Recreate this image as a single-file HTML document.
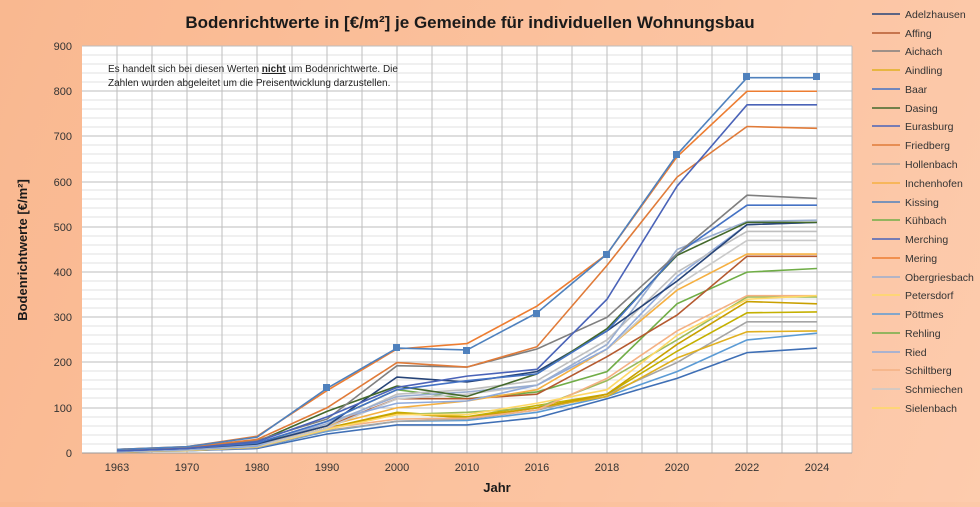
<!DOCTYPE html>
<html><head><meta charset="utf-8"><style>
body{margin:0;width:980px;height:502px;overflow:hidden;background:linear-gradient(110deg,#f9b890 0%,#fbc19d 50%,#fdcbad 100%);font-family:"Liberation Sans",sans-serif}
</style></head><body>
<svg width="980" height="502" xmlns="http://www.w3.org/2000/svg" font-family="Liberation Sans, sans-serif">
<text x="470" y="28" font-size="17" font-weight="bold" text-anchor="middle" fill="#1a1a1a">Bodenrichtwerte in [€/m²] je Gemeinde für individuellen Wohnungsbau</text>
<rect x="82" y="46" width="770" height="407" fill="#fff"/>
<g stroke="#e2e2e2" stroke-width="1">
<path d="M82 55H852M82 64H852M82 73H852M82 82H852M82 100H852M82 109H852M82 118H852M82 127H852M82 145H852M82 154H852M82 163H852M82 172H852M82 190H852M82 199H852M82 208H852M82 217H852M82 236H852M82 245H852M82 254H852M82 263H852M82 281H852M82 290H852M82 299H852M82 308H852M82 326H852M82 335H852M82 344H852M82 353H852M82 371H852M82 380H852M82 389H852M82 398H852M82 417H852M82 426H852M82 435H852M82 444H852"/>
</g>
<g stroke="#bdbdbd" stroke-width="1">
<path d="M82 46H852M82 91H852M82 136H852M82 182H852M82 227H852M82 272H852M82 317H852M82 362H852M82 408H852"/>
<path d="M117 46V453M152 46V453M187 46V453M222 46V453M257 46V453M292 46V453M327 46V453M362 46V453M397 46V453M432 46V453M467 46V453M502 46V453M537 46V453M572 46V453M607 46V453M642 46V453M677 46V453M712 46V453M747 46V453M782 46V453M817 46V453M852 46V453"/>
</g>
<path d="M82 453H852" stroke="#999"/>
<g font-size="11" fill="#333" text-anchor="end">
<text x="72" y="50">900</text><text x="72" y="95">800</text><text x="72" y="140">700</text><text x="72" y="186">600</text><text x="72" y="231">500</text><text x="72" y="276">400</text><text x="72" y="321">300</text><text x="72" y="366">200</text><text x="72" y="412">100</text><text x="72" y="457">0</text>
</g>
<g font-size="11" fill="#333" text-anchor="middle">
<text x="117" y="471">1963</text><text x="187" y="471">1970</text><text x="257" y="471">1980</text><text x="327" y="471">1990</text><text x="397" y="471">2000</text><text x="467" y="471">2010</text><text x="537" y="471">2016</text><text x="607" y="471">2018</text><text x="677" y="471">2020</text><text x="747" y="471">2022</text><text x="817" y="471">2024</text>
</g>
<text x="497" y="492" font-size="13" font-weight="bold" text-anchor="middle" fill="#1a1a1a">Jahr</text>
<text transform="translate(27,250) rotate(-90)" font-size="13" font-weight="bold" text-anchor="middle" fill="#1a1a1a">Bodenrichtwerte [€/m²]</text>
<text x="108" y="72" font-size="10" fill="#222">Es handelt sich bei diesen Werten <tspan font-weight="bold" text-decoration="underline">nicht</tspan> um Bodenrichtwerte. Die</text>
<text x="108" y="86" font-size="10" fill="#222">Zahlen wurden abgeleitet um die Preisentwicklung darzustellen.</text>
<g fill="none" stroke-width="1.6" transform="translate(0,453) scale(1,-0.4522)">
<polyline vector-effect="non-scaling-stroke" stroke="#3f6fb5" points="117,3 187,5 257,10 327,42 397,62 467,62 537,78 607,120 677,165 747,222 817,232"/>
<polyline vector-effect="non-scaling-stroke" stroke="#5b9bd5" points="117,3 187,5 257,12 327,48 397,70 467,72 537,90 607,125 677,180 747,250 817,265"/>
<polyline vector-effect="non-scaling-stroke" stroke="#a5a5a5" points="117,3 187,5 257,12 327,50 397,70 467,75 537,95 607,130 677,200 747,290 817,290"/>
<polyline vector-effect="non-scaling-stroke" stroke="#e0b020" points="117,3 187,6 257,14 327,55 397,88 467,78 537,100 607,125 677,210 747,268 817,270"/>
<polyline vector-effect="non-scaling-stroke" stroke="#c4b000" points="117,3 187,6 257,14 327,55 397,90 467,80 537,105 607,130 677,225 747,310 817,312"/>
<polyline vector-effect="non-scaling-stroke" stroke="#9bbb59" points="117,3 187,7 257,15 327,55 397,85 467,90 537,100 607,160 677,250 747,345 817,345"/>
<polyline vector-effect="non-scaling-stroke" stroke="#c9a000" points="117,3 187,6 257,14 327,55 397,88 467,78 537,100 607,130 677,240 747,335 817,330"/>
<polyline vector-effect="non-scaling-stroke" stroke="#f4b183" points="117,3 187,6 257,15 327,55 397,75 467,77 537,95 607,165 677,270 747,348 817,348"/>
<polyline vector-effect="non-scaling-stroke" stroke="#ffd966" points="117,3 187,6 257,14 327,52 397,85 467,85 537,110 607,140 677,260 747,340 817,348"/>
<polyline vector-effect="non-scaling-stroke" stroke="#70ad47" points="117,4 187,8 257,20 327,70 397,140 467,120 537,135 607,180 677,330 747,400 817,408"/>
<polyline vector-effect="non-scaling-stroke" stroke="#b55a30" points="117,4 187,8 257,18 327,60 397,120 467,120 537,130 607,213 677,305 747,435 817,435"/>
<polyline vector-effect="non-scaling-stroke" stroke="#f5b042" points="117,4 187,8 257,18 327,60 397,100 467,115 537,140 607,230 677,360 747,440 817,440"/>
<polyline vector-effect="non-scaling-stroke" stroke="#c9c9c9" points="117,3 187,7 257,15 327,55 397,120 467,130 537,150 607,230 677,370 747,470 817,470"/>
<polyline vector-effect="non-scaling-stroke" stroke="#8faadc" points="117,3 187,7 257,15 327,70 397,110 467,115 537,150 607,230 677,390 747,505 817,510"/>
<polyline vector-effect="non-scaling-stroke" stroke="#bfbfbf" points="117,4 187,8 257,18 327,60 397,130 467,140 537,160 607,250 677,400 747,490 817,490"/>
<polyline vector-effect="non-scaling-stroke" stroke="#9aaed0" points="117,4 187,8 257,18 327,65 397,125 467,135 537,150 607,240 677,450 747,512 817,515"/>
<polyline vector-effect="non-scaling-stroke" stroke="#264478" points="117,5 187,10 257,20 327,60 397,168 467,157 537,180 607,270 677,380 747,505 817,510"/>
<polyline vector-effect="non-scaling-stroke" stroke="#43682b" points="117,6 187,12 257,25 327,92 397,148 467,125 537,175 607,275 677,437 747,510 817,510"/>
<polyline vector-effect="non-scaling-stroke" stroke="#4472c4" points="117,5 187,10 257,22 327,70 397,140 467,160 537,175 607,270 677,440 747,548 817,548"/>
<polyline vector-effect="non-scaling-stroke" stroke="#7f7f7f" points="117,6 187,12 257,28 327,75 397,193 467,190 537,230 607,300 677,440 747,570 817,563"/>
<polyline vector-effect="non-scaling-stroke" stroke="#e07b39" points="117,8 187,13 257,30 327,100 397,200 467,190 537,235 607,415 677,610 747,722 817,718"/>
<polyline vector-effect="non-scaling-stroke" stroke="#4a63b8" points="117,5 187,10 257,25 327,80 397,145 467,170 537,185 607,340 677,590 747,770 817,770"/>
<polyline vector-effect="non-scaling-stroke" stroke="#ed7d31" points="117,8 187,14 257,37 327,138 397,230 467,242 537,325 607,440 677,655 747,800 817,800"/>
<polyline vector-effect="non-scaling-stroke" stroke="#4f81bd" points="117,8 187,14 257,35 327,143 397,232 467,228 537,310 607,440 677,660 747,830 817,830"/>
</g>
<g fill="#4f81bd">
<rect x="323" y="384" width="7" height="7"/><rect x="393" y="344" width="7" height="7"/><rect x="463" y="347" width="7" height="7"/><rect x="533" y="310" width="7" height="7"/><rect x="603" y="251" width="7" height="7"/><rect x="673" y="151" width="7" height="7"/><rect x="743" y="73" width="7" height="7"/><rect x="813" y="73" width="7" height="7"/>
</g>
<g font-size="10.5" fill="#333">
<g stroke-width="1.6">
<path d="M872 14H900" stroke="#264478"/><path d="M872 33H900" stroke="#b55a30"/><path d="M872 51H900" stroke="#7f7f7f"/><path d="M872 70H900" stroke="#e0b020"/><path d="M872 89H900" stroke="#4472c4"/><path d="M872 108H900" stroke="#43682b"/><path d="M872 126H900" stroke="#4a63b8"/><path d="M872 145H900" stroke="#e07b39"/><path d="M872 164H900" stroke="#a5a5a5"/><path d="M872 183H900" stroke="#f5b042"/><path d="M872 202H900" stroke="#4f81bd"/><path d="M872 220H900" stroke="#70ad47"/><path d="M872 239H900" stroke="#4a63b8"/><path d="M872 258H900" stroke="#ed7d31"/><path d="M872 277H900" stroke="#9aaed0"/><path d="M872 295H900" stroke="#ffd966"/><path d="M872 314H900" stroke="#5b9bd5"/><path d="M872 333H900" stroke="#70ad47"/><path d="M872 352H900" stroke="#8faadc"/><path d="M872 370H900" stroke="#f4b183"/><path d="M872 389H900" stroke="#c9c9c9"/><path d="M872 408H900" stroke="#ffd966"/>
</g>
<text x="905" y="18">Adelzhausen</text><text x="905" y="37">Affing</text><text x="905" y="55">Aichach</text><text x="905" y="74">Aindling</text><text x="905" y="93">Baar</text><text x="905" y="112">Dasing</text><text x="905" y="130">Eurasburg</text><text x="905" y="149">Friedberg</text><text x="905" y="168">Hollenbach</text><text x="905" y="187">Inchenhofen</text><text x="905" y="206">Kissing</text><text x="905" y="224">Kühbach</text><text x="905" y="243">Merching</text><text x="905" y="262">Mering</text><text x="905" y="281">Obergriesbach</text><text x="905" y="299">Petersdorf</text><text x="905" y="318">Pöttmes</text><text x="905" y="337">Rehling</text><text x="905" y="356">Ried</text><text x="905" y="374">Schiltberg</text><text x="905" y="393">Schmiechen</text><text x="905" y="412">Sielenbach</text>
</g>
</svg>
</body></html>
